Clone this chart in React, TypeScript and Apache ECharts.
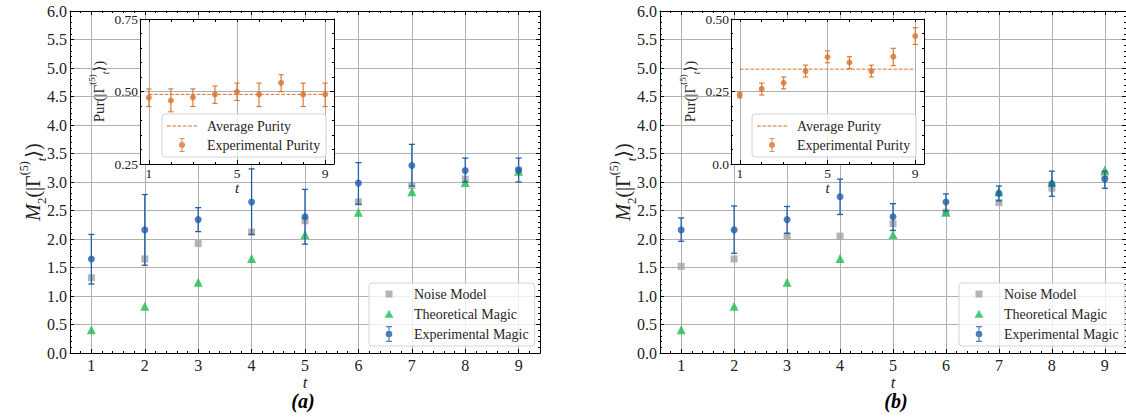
import React, { useEffect, useRef } from 'react';
import * as echarts from 'echarts';

// ---------- data ----------
const T = [1, 2, 3, 4, 5, 6, 7, 8, 9];
const INSET_TICKS = [1, 5, 9];
const INSET_MINOR = [2, 3, 4, 6, 7, 8];

const noiseA = [1.32, 1.65, 1.92, 2.12, 2.32, 2.65, 2.94, 3.05, 3.21];
const theoryA = [0.41, 0.82, 1.24, 1.66, 2.08, 2.47, 2.83, 2.99, 3.19];
const expA = [1.65, 2.16, 2.34, 2.65, 2.39, 2.98, 3.29, 3.2, 3.21];
const expLowA = [1.21, 1.54, 2.13, 2.08, 1.91, 2.61, 2.93, 3.0, 3.0];
const expHighA = [2.08, 2.78, 2.55, 3.23, 2.87, 3.34, 3.66, 3.42, 3.42];

const noiseB = [1.52, 1.65, 2.05, 2.05, 2.27, 2.47, 2.64, 2.89, 3.12];
const theoryB = [0.41, 0.82, 1.24, 1.66, 2.08, 2.47, 2.83, 2.99, 3.21];
const expB = [2.16, 2.16, 2.34, 2.74, 2.39, 2.65, 2.8, 2.97, 3.05];
const expLowB = [1.96, 1.75, 2.1, 2.43, 2.15, 2.49, 2.67, 2.75, 2.89];
const expHighB = [2.37, 2.58, 2.57, 3.05, 2.62, 2.79, 2.93, 3.19, 3.19];

const purA = [0.479, 0.469, 0.48, 0.49, 0.499, 0.49, 0.53, 0.49, 0.49];
const purLowA = [0.448, 0.43, 0.448, 0.459, 0.469, 0.448, 0.499, 0.448, 0.448];
const purHighA = [0.509, 0.509, 0.509, 0.519, 0.529, 0.529, 0.558, 0.529, 0.529];
const avgPurA = 0.49;

const purB = [0.238, 0.259, 0.28, 0.32, 0.369, 0.35, 0.32, 0.37, 0.441];
const purLowB = [0.228, 0.238, 0.259, 0.3, 0.349, 0.329, 0.3, 0.339, 0.412];
const purHighB = [0.248, 0.279, 0.3, 0.341, 0.39, 0.37, 0.341, 0.399, 0.47];
const avgPurB = 0.327;

// ---------- style ----------
const FONT = 'Liberation Serif, DejaVu Serif, serif';
const BLUE = '#1f5fa8';
const GRAY = '#a2a2a2';
const GREEN = '#1cbf4c';
const ORANGE = '#d8722e';
const GRID = '#b0b0b0';
const TXT = '#222';

const CORNERS = 'M0 0h0.01v0.01h-0.01Z M39.99 17.99h0.01v0.01h-0.01Z ';
const ICON_SQ = 'path://' + CORNERS + 'M16.5 5.5h7v7h-7Z';
const ICON_TRI = 'path://' + CORNERS + 'M15.5 12.8L24.5 12.8L20 5Z';
const ICON_ERR =
  'path://' + CORNERS +
  'M17 1h6v1.2h-6Z M19.4 1h1.2v16h-1.2Z M17 15.8h6v1.2h-6Z M16.7 9a3.3 3.3 0 1 1 6.6 0a3.3 3.3 0 1 1 -6.6 0Z';
const ICON_ERR_O =
  'path://' + CORNERS +
  'M17.5 2h5v1.1h-5Z M19.45 2h1.1v14h-1.1Z M17.5 14.9h5v1.1h-5Z M17 9a3 3 0 1 1 6 0a3 3 0 1 1 -6 0Z';
let dashPath = CORNERS;
for (let x = 5; x < 34; x += 5.3) dashPath += `M${x.toFixed(2)} 8.4h3.7v1.2h-3.7Z `;
const ICON_DASH = 'path://' + dashPath;

const errRender = (capHalf: number, color: string, width: number) => (params: any, api: any) => {
  const x = api.value(0);
  const lo = api.coord([x, api.value(1)]);
  const hi = api.coord([x, api.value(2)]);
  const style = { stroke: color, lineWidth: width };
  return {
    type: 'group',
    children: [
      { type: 'line', shape: { x1: lo[0], y1: lo[1], x2: hi[0], y2: hi[1] }, style },
      { type: 'line', shape: { x1: lo[0] - capHalf, y1: lo[1], x2: lo[0] + capHalf, y2: lo[1] }, style },
      { type: 'line', shape: { x1: hi[0] - capHalf, y1: hi[1], x2: hi[0] + capHalf, y2: hi[1] }, style },
    ],
  };
};

const pairs = (ys: number[]) => T.map((t, i) => [t, ys[i]]);
const triples = (lo: number[], hi: number[]) => T.map((t, i) => [t, lo[i], hi[i]]);

const BLACK_LINE = { show: true, onZero: false, lineStyle: { color: '#000', width: 1 } };

function mainX(grid: number, top: boolean) {
  return {
    type: 'value', gridIndex: grid, min: 0.6, max: 9.4, splitNumber: 9,
    position: top ? 'top' : 'bottom',
    axisLine: BLACK_LINE,
    axisTick: { show: true, inside: true, length: 4, customValues: T, lineStyle: { color: '#000' } },
    minorTick: { show: true, splitNumber: 5, length: 2, lineStyle: { color: '#000' } },
    axisLabel: top
      ? { show: false }
      : { show: true, customValues: T, margin: 5, color: TXT, fontFamily: FONT, fontSize: 16, lineHeight: 14, formatter: (v: number) => String(v) },
    splitLine: { show: !top, lineStyle: { color: GRID, width: 1 } },
    name: top ? '' : 't',
    nameLocation: 'middle',
    nameGap: 22,
    nameMoveOverlap: false,
    nameTextStyle: { fontFamily: FONT, fontStyle: 'italic', fontSize: 17, color: TXT, lineHeight: 14 },
  };
}

const richName = (size: number) => ({
  fontFamily: FONT, fontSize: size, color: TXT,
  rich: {
    i: { fontFamily: FONT, fontStyle: 'italic', fontSize: size, lineHeight: size * 1.5, color: TXT },
    n: { fontFamily: FONT, fontSize: size, lineHeight: size * 1.5, color: TXT },
    sub: { fontFamily: FONT, fontSize: size * 0.65, verticalAlign: 'bottom', color: TXT },
    subi: { fontFamily: FONT, fontStyle: 'italic', fontSize: size * 0.65, verticalAlign: 'bottom', color: TXT },
    sup: { fontFamily: FONT, fontSize: size * 0.6, verticalAlign: 'top', color: TXT },
  },
});

function mainY(grid: number, right: boolean) {
  return {
    type: 'value', gridIndex: grid, min: 0, max: 6, interval: 0.5,
    position: right ? 'right' : 'left',
    axisLine: BLACK_LINE,
    axisTick: { show: true, inside: true, length: 4, lineStyle: { color: '#000' } },
    minorTick: { show: true, splitNumber: 5, length: 2, lineStyle: { color: '#000' } },
    axisLabel: right
      ? { show: false }
      : { show: true, margin: 3, color: TXT, fontFamily: FONT, fontSize: 16, formatter: (v: number) => v.toFixed(1) },
    splitLine: { show: !right, lineStyle: { color: GRID, width: 1 } },
    name: right ? '' : '{i|M}{sub|2}{n|(|Γ}{sup|(5)}{subi|t}{n|⟩)}',
    nameLocation: 'middle',
    nameGap: 22,
    nameMoveOverlap: false,
    nameTextStyle: richName(20),
  };
}

function insetX(grid: number, kind: 'bottom' | 'minor' | 'top') {
  const base: any = {
    type: 'value', gridIndex: grid, min: 0.6, max: 9.4, splitNumber: 9, z: 11,
    position: kind === 'top' ? 'top' : 'bottom',
    minorTick: { show: false },
  };
  if (kind === 'bottom') {
    return {
      ...base,
      axisLine: BLACK_LINE,
      axisTick: { show: true, inside: true, length: 4, customValues: INSET_TICKS, lineStyle: { color: '#000' } },
      axisLabel: { show: true, customValues: INSET_TICKS, margin: 3, color: TXT, fontFamily: FONT, fontSize: 13.5, lineHeight: 13, formatter: (v: number) => String(v) },
      splitLine: { show: true, lineStyle: { color: GRID, width: 1 } },
      name: 't', nameLocation: 'middle', nameGap: 17, nameMoveOverlap: false,
      nameTextStyle: { fontFamily: FONT, fontStyle: 'italic', fontSize: 15, color: TXT, lineHeight: 13 },
    };
  }
  if (kind === 'minor') {
    return {
      ...base,
      axisLine: { show: false },
      axisTick: { show: true, inside: true, length: 2, customValues: INSET_MINOR, lineStyle: { color: '#000' } },
      axisLabel: { show: false },
      splitLine: { show: false },
    };
  }
  return {
    ...base,
    axisLine: BLACK_LINE,
    axisTick: { show: true, inside: true, length: 3, customValues: T, lineStyle: { color: '#000' } },
    axisLabel: { show: false },
    splitLine: { show: false },
  };
}

function insetY(grid: number, right: boolean, min: number, max: number, fmt: (v: number) => string) {
  return {
    type: 'value', gridIndex: grid, min, max, interval: 0.25, z: 11,
    position: right ? 'right' : 'left',
    axisLine: BLACK_LINE,
    axisTick: { show: true, inside: true, length: 4, lineStyle: { color: '#000' } },
    minorTick: { show: true, splitNumber: 5, length: 2, lineStyle: { color: '#000' } },
    axisLabel: right ? { show: false } : { show: true, margin: 2, color: TXT, fontFamily: FONT, fontSize: 13.5, formatter: fmt },
    splitLine: { show: !right, lineStyle: { color: GRID, width: 1 } },
    name: right ? '' : '{n|Pur(|Γ}{sup|(5)}{subi|t}{n|⟩)}',
    nameLocation: 'middle',
    nameGap: 30,
    nameMoveOverlap: false,
    nameTextStyle: richName(15),
  };
}

function mainSeries(xi: number, yi: number, noise: number[], theory: number[], exp: number[], lo: number[], hi: number[]) {
  return [
    { type: 'scatter', name: 'Noise Model', xAxisIndex: xi, yAxisIndex: yi, data: pairs(noise), symbol: 'rect', symbolSize: 7, itemStyle: { color: GRAY }, z: 2 },
    { type: 'scatter', name: 'Theoretical Magic', xAxisIndex: xi, yAxisIndex: yi, data: pairs(theory), symbol: 'triangle', symbolSize: 9, itemStyle: { color: GREEN }, z: 3 },
    { type: 'custom', name: 'expErr', xAxisIndex: xi, yAxisIndex: yi, data: triples(lo, hi), encode: { x: 0, y: [1, 2] }, renderItem: errRender(3, BLUE, 1.3), z: 4 },
    { type: 'scatter', name: 'Experimental Magic', xAxisIndex: xi, yAxisIndex: yi, data: pairs(exp), symbol: 'circle', symbolSize: 7, itemStyle: { color: BLUE }, z: 5 },
  ];
}

function insetSeries(xi: number, yi: number, pur: number[], lo: number[], hi: number[], avg: number) {
  return [
    { type: 'line', name: 'Average Purity', xAxisIndex: xi, yAxisIndex: yi, data: [[1, avg], [9, avg]], symbol: 'none', lineStyle: { color: ORANGE, width: 1, type: [3.7, 1.6] }, itemStyle: { color: ORANGE }, z: 12 },
    { type: 'custom', name: 'purErr', xAxisIndex: xi, yAxisIndex: yi, data: triples(lo, hi), encode: { x: 0, y: [1, 2] }, renderItem: errRender(2.6, ORANGE, 1.1), z: 13 },
    { type: 'scatter', name: 'Experimental Purity', xAxisIndex: xi, yAxisIndex: yi, data: pairs(pur), symbol: 'circle', symbolSize: 6, itemStyle: { color: ORANGE }, z: 14 },
  ];
}

const legendBase = {
  orient: 'vertical', align: 'left', itemWidth: 40, itemHeight: 18, itemGap: 2,
  selectedMode: false, symbolKeepAspect: true,
  textStyle: { fontFamily: FONT, fontSize: 14, color: '#262626' },
  backgroundColor: 'rgba(255,255,255,0.8)', borderColor: '#d4d4d4', borderWidth: 1, borderRadius: 3,
};

const mainLegendData = [
  { name: 'Noise Model', icon: ICON_SQ, itemStyle: { color: GRAY } },
  { name: 'Theoretical Magic', icon: ICON_TRI, itemStyle: { color: GREEN } },
  { name: 'Experimental Magic', icon: ICON_ERR, itemStyle: { color: BLUE } },
];
const insetLegendData = [
  { name: 'Average Purity', icon: ICON_DASH, itemStyle: { color: ORANGE, borderWidth: 0 } },
  { name: 'Experimental Purity', icon: ICON_ERR_O, itemStyle: { color: ORANGE } },
];

export default function App() {
  const ref = useRef<HTMLDivElement>(null);
  useEffect(() => {
    if (!ref.current) return;
    const chart = echarts.init(ref.current, undefined, { renderer: 'svg' });
    const option: any = {
      animation: false,
      backgroundColor: '#fff',
      grid: [
        { left: 70, top: 11, width: 470, height: 342, containLabel: false },
        { left: 660, top: 11, width: 470, height: 342, containLabel: false },
        { left: 140, top: 19, width: 194, height: 145, show: true, backgroundColor: '#fff', borderWidth: 0, z: 10 },
        { left: 731, top: 19, width: 193, height: 145, show: true, backgroundColor: '#fff', borderWidth: 0, z: 10 },
      ],
      xAxis: [
        mainX(0, false), mainX(0, true),
        mainX(1, false), mainX(1, true),
        insetX(2, 'bottom'), insetX(2, 'minor'), insetX(2, 'top'),
        insetX(3, 'bottom'), insetX(3, 'minor'), insetX(3, 'top'),
      ],
      yAxis: [
        mainY(0, false), mainY(0, true),
        mainY(1, false), mainY(1, true),
        insetY(2, false, 0.25, 0.75, (v) => v.toFixed(2)), insetY(2, true, 0.25, 0.75, (v) => v.toFixed(2)),
        insetY(3, false, 0, 0.5, (v) => (v === 0 ? '0.0' : v.toFixed(2))), insetY(3, true, 0, 0.5, (v) => v.toFixed(2)),
      ],
      legend: [
        { ...legendBase, left: 369, top: 283, padding: [2, 6, 3, 0], data: mainLegendData, z: 6 },
        { ...legendBase, left: 959, top: 283, padding: [2, 6, 3, 0], data: mainLegendData, z: 6 },
        { ...legendBase, left: 162, top: 114, itemGap: 1, padding: [3, 6, 3, 0], data: insetLegendData, z: 20 },
        { ...legendBase, left: 752, top: 114, itemGap: 1, padding: [3, 6, 3, 0], data: insetLegendData, z: 20 },
      ],
      graphic: [
        { type: 'text', x: 303, y: 401, z: 30, style: { text: '(a)', fontFamily: FONT, fontStyle: 'italic', fontWeight: 'bold', fontSize: 20, lineHeight: 18, fill: '#000', align: 'center', verticalAlign: 'middle' } },
        { type: 'text', x: 896, y: 401, z: 30, style: { text: '(b)', fontFamily: FONT, fontStyle: 'italic', fontWeight: 'bold', fontSize: 20, lineHeight: 18, fill: '#000', align: 'center', verticalAlign: 'middle' } },
      ],
      series: [
        ...mainSeries(0, 0, noiseA, theoryA, expA, expLowA, expHighA),
        ...mainSeries(2, 2, noiseB, theoryB, expB, expLowB, expHighB),
        ...insetSeries(4, 4, purA, purLowA, purHighA, avgPurA),
        ...insetSeries(7, 6, purB, purLowB, purHighB, avgPurB),
      ],
    };
    chart.setOption(option);
    return () => chart.dispose();
  }, []);
  return (
    <div
      ref={ref}
      style={{ position: 'absolute', left: 0, top: 0, width: 1126, height: 417, background: '#fff' }}
    />
  );
}
